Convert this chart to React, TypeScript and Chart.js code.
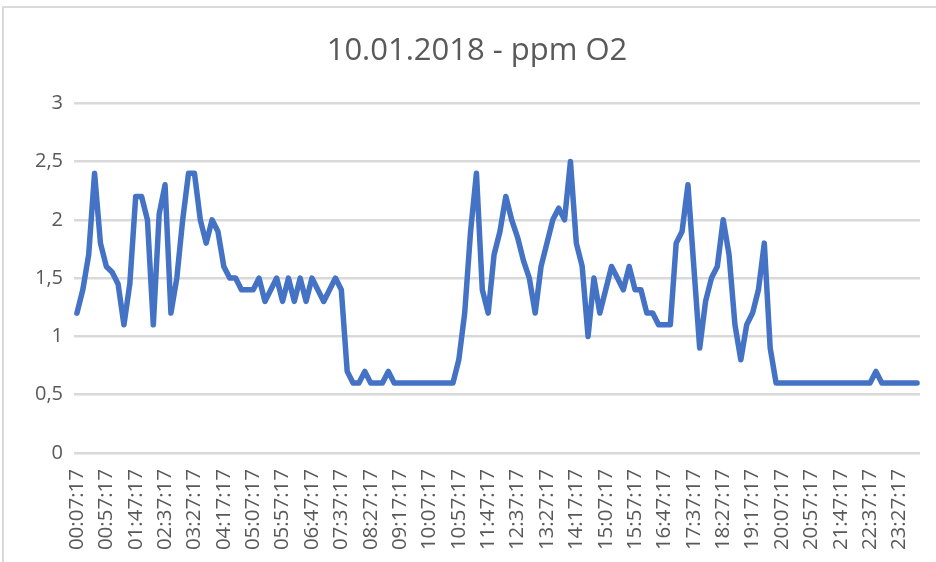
import React, { useEffect, useRef } from "react";
import { Chart, registerables } from "chart.js";

Chart.register(...registerables);

const TITLE = "10.01.2018 - ppm O2";

// O2 readings (ppm), one every 10 minutes starting 00:07:17
const O2_PPM: number[] = [
  1.2, 1.4, 1.7, 2.4, 1.8, 1.6, 1.55, 1.45, 1.1, 1.45,
  2.2, 2.2, 2.0, 1.1, 2.05, 2.3, 1.2, 1.5, 2.0, 2.4,
  2.4, 2.0, 1.8, 2.0, 1.9, 1.6, 1.5, 1.5, 1.4, 1.4,
  1.4, 1.5, 1.3, 1.4, 1.5, 1.3, 1.5, 1.3, 1.5, 1.3,
  1.5, 1.4, 1.3, 1.4, 1.5, 1.4, 0.7, 0.6, 0.6, 0.7,
  0.6, 0.6, 0.6, 0.7, 0.6, 0.6, 0.6, 0.6, 0.6, 0.6,
  0.6, 0.6, 0.6, 0.6, 0.6, 0.8, 1.2, 1.9, 2.4, 1.4,
  1.2, 1.7, 1.9, 2.2, 2.0, 1.85, 1.65, 1.5, 1.2, 1.6,
  1.8, 2.0, 2.1, 2.0, 2.5, 1.8, 1.6, 1.0, 1.5, 1.2,
  1.4, 1.6, 1.5, 1.4, 1.6, 1.4, 1.4, 1.2, 1.2, 1.1,
  1.1, 1.1, 1.8, 1.9, 2.3, 1.6, 0.9, 1.3, 1.5, 1.6,
  2.0, 1.7, 1.1, 0.8, 1.1, 1.2, 1.4, 1.8, 0.9, 0.6,
  0.6, 0.6, 0.6, 0.6, 0.6, 0.6, 0.6, 0.6, 0.6, 0.6,
  0.6, 0.6, 0.6, 0.6, 0.6, 0.6, 0.7, 0.6, 0.6, 0.6,
  0.6, 0.6, 0.6, 0.6,
];

// category timestamps: 00:07:17, 00:17:17, ... (10-minute sampling)
const pad = (n: number) => (n < 10 ? "0" + n : String(n));
const TIMES: string[] = O2_PPM.map((_, i) => {
  const mins = 7 + 10 * i;
  return `${pad(Math.floor(mins / 60))}:${pad(mins % 60)}:17`;
});
const LABEL_EVERY = 5;

const Y_MIN = 0;
const Y_MAX = 3;
const Y_STEP = 0.5;

const FONT = "'Open Sans', 'Liberation Sans', sans-serif";
const TEXT = "#595959";

export default function App() {
  const ref = useRef<HTMLCanvasElement | null>(null);

  useEffect(() => {
    if (!ref.current) return;
    const chart = new Chart(ref.current, {
      type: "line",
      data: {
        labels: TIMES,
        datasets: [
          {
            data: O2_PPM,
            borderColor: "#4472C4",
            backgroundColor: "#4472C4",
            borderWidth: 5.5,
            pointRadius: 0,
            tension: 0,
            fill: false,
            borderJoinStyle: "round",
            borderCapStyle: "round",
          },
        ],
      },
      options: {
        responsive: false,
        animation: false,
        layout: { padding: { left: 34, right: 16, top: 0, bottom: 0 } },
        plugins: {
          legend: { display: false },
          tooltip: { enabled: false },
          title: {
            display: true,
            text: TITLE,
            color: TEXT,
            font: { family: FONT, size: 31, weight: "normal" },
            padding: { top: 33, bottom: 33 },
          },
        },
        scales: {
          x: {
            offset: true,
            grid: { display: false },
            border: { display: false },
            ticks: {
              autoSkip: false,
              maxRotation: 90,
              minRotation: 90,
              padding: 8,
              color: TEXT,
              font: { family: FONT, size: 20.5 },
              callback: (_v: any, i: number) =>
                i % LABEL_EVERY === 0 ? TIMES[i] : null,
            },
            afterFit: (s: any) => {
              s.height = 109;
            },
          },
          y: {
            min: Y_MIN,
            max: Y_MAX,
            border: { display: false },
            grid: { color: "#D9D9D9", lineWidth: 2.5, drawTicks: false },
            ticks: {
              stepSize: Y_STEP,
              padding: 11,
              color: TEXT,
              font: { family: FONT, size: 20 },
              callback: (v: any) => String(v).replace(".", ","),
            },
            afterFit: (s: any) => {
              s.width = 40;
            },
          },
        },
      },
    });
    return () => chart.destroy();
  }, []);

  return (
    <div
      style={{
        position: "absolute",
        left: 0,
        top: 0,
        width: 936,
        height: 562,
        overflow: "hidden",
        background: "#fff",
      }}
    >
      <div
        style={{
          position: "absolute",
          left: 2,
          top: 6,
          width: 980,
          height: 620,
          border: "2px solid #D9D9D9",
          pointerEvents: "none",
        }}
      />
      <canvas
        ref={ref}
        width={936}
        height={562}
        style={{ position: "absolute", left: 0, top: 0, width: 936, height: 562 }}
      />
    </div>
  );
}
